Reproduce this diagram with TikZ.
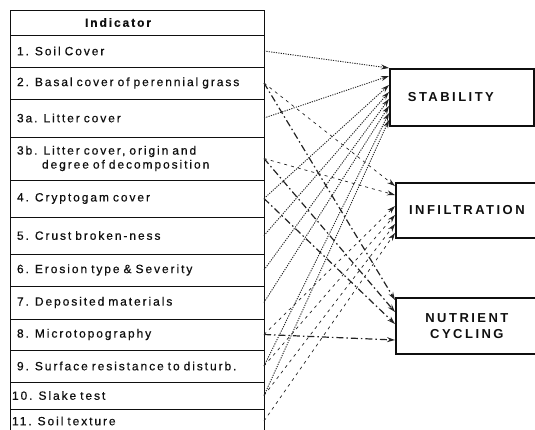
\documentclass[tikz,border=0pt]{standalone}
\usepackage{fontspec}
\setmainfont{Liberation Sans}
\newfontfamily\rowfont[LetterSpace=16, FakeBold=0.5]{Liberation Sans}
\newfontfamily\boxfont[LetterSpace=19]{Liberation Sans}
\usetikzlibrary{positioning, calc, arrows.meta}
\definecolor{lfaInk}{RGB}{15, 15, 15}
\definecolor{lfaLine}{RGB}{35, 35, 35}
\tikzset{
    base/.style={
        font=\rowfont\fontsize{12}{14}\selectfont,
        text=lfaInk
    },
    row/.style={
        base,
        rectangle,
        draw=lfaInk,
        line width=0.8pt,
        outer sep=0pt,
        anchor=north west,
        align=left,
        minimum width=254pt,
        text width=240pt,
        inner xsep=7pt,
        inner ysep=0pt
    },
    header/.style={
        row,
        text width=104pt,
        inner xsep=75pt,
        font=\rowfont\bfseries\fontsize{12}{14}\selectfont
    },
    index/.style={
        rectangle,
        draw=lfaInk,
        line width=1.8pt,
        anchor=north west,
        align=center,
        text=lfaInk,
        font=\boxfont\bfseries\fontsize{13}{16}\selectfont
    },
    stabflow/.style={
        -{Stealth[length=8pt, width=5pt]},
        line width=0.9pt,
        color=lfaLine,
        dash pattern=on 1.2pt off 1.2pt
    },
    infflow/.style={
        -{Stealth[length=8pt, width=5pt]},
        line width=0.7pt,
        color=lfaLine,
        dash pattern=on 3pt off 4pt
    },
    nutflow/.style={
        -{Stealth[length=8pt, width=5pt]},
        line width=1.2pt,
        color=lfaLine,
        dash pattern=on 7pt off 3pt on 1.5pt off 3pt
    }
}

\begin{document}
\begin{tikzpicture}[x=1pt, y=-1pt]
  \useasboundingbox (0,0) rectangle (535,429);

  % Indicator table
  \node[header, minimum height=25pt] (hdr) at (10,10) {Indicator};
  \node[row, minimum height=32pt] (r1) at (hdr.south west) {1. Soil Cover};
  \node[row, minimum height=32pt] (r2) at (r1.south west) {2. Basal cover of perennial grass};
  \node[row, minimum height=38pt] (r3a) at (r2.south west) {3a. Litter cover};
  \node[row, minimum height=43pt] (r3b) at (r3a.south west)
    {3b. Litter cover, origin and\\\hspace*{25pt}degree of decomposition};
  \node[row, minimum height=37pt] (r4) at (r3b.south west) {4. Cryptogam cover};
  \node[row, minimum height=37pt] (r5) at (r4.south west) {5. Crust broken-ness};
  \node[row, minimum height=32pt] (r6) at (r5.south west) {6. Erosion type \& Severity};
  \node[row, minimum height=33pt] (r7) at (r6.south west) {7. Deposited materials};
  \node[row, minimum height=31pt] (r8) at (r7.south west) {8. Microtopography};
  \node[row, minimum height=32pt] (r9) at (r8.south west) {9. Surface resistance to disturb.};
  \node[row, minimum height=27pt, inner xsep=2pt, text width=250pt] (r10) at (r9.south west) {10. Slake test};
  \node[row, minimum height=24pt, inner xsep=2pt, text width=250pt] (r11) at (r10.south west) {11. Soil texture};

  % Soil surface indices
  \node[index, minimum width=144pt, minimum height=57pt, align=left,
        inner xsep=18pt, text width=108pt] (stab) at (389,68) {STABILITY};
  \node[index, minimum width=142pt, minimum height=55pt] (infil) at (395,182) {INFILTRATION};
  \node[index, minimum width=142pt, minimum height=56pt] (nutr) at (395,297) {NUTRIENT\\CYCLING};

  % Links to stability
  \foreach \src/\dy in {r1/0, r3a/8, r4/17, r5/24, r6/31, r7/38, r9/45, r10/52}
    \draw[stabflow] (\src.east) -- ($(stab.north west)+(0,\dy)$);

  % Links to infiltration
  \foreach \src/\dy in {r2/4, r3b/13, r8/24, r9/33, r10/42, r11/51}
    \draw[infflow] (\src.east) -- ($(infil.north west)+(0,\dy)$);

  % Links to nutrient cycling
  \foreach \src/\dy in {r2/3, r3b/15, r4/27, r8/43}
    \draw[nutflow] (\src.east) -- ($(nutr.north west)+(0,\dy)$);
\end{tikzpicture}
\end{document}
